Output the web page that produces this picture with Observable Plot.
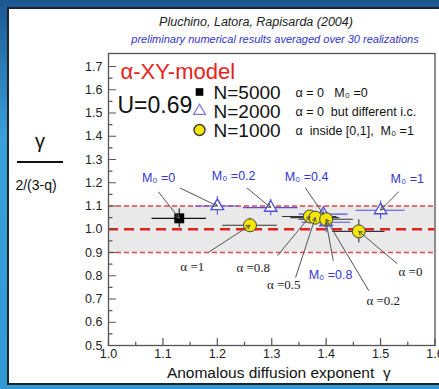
<!DOCTYPE html>
<html>
<head>
<meta charset="utf-8">
<script src="https://cdn.jsdelivr.net/npm/d3@7"></script>
<script src="https://cdn.jsdelivr.net/npm/@observablehq/plot@0.6"></script>
<style>
  body { margin: 0; }
  #wrap { position: relative; width: 439px; height: 389px; overflow: hidden;
    background: linear-gradient(to bottom, #1c5790 0%, #3aa0da 35%, #3399d4 100%); font-family: "Liberation Sans", Arial, sans-serif; }
  #panel { position: absolute; left: 7px; top: 7px; width: 440px; height: 374px; background: #fff; border: 2px solid #1b2530; }
  .lbl { position: absolute; white-space: nowrap; text-align: center; }
  #chart { position: absolute; left: 0; top: 0; }
</style>
</head>
<body>
<div id="wrap">
  <div id="panel"></div>
  <div class="lbl" style="left:106px; width:300px; top:15px; font-size:12.5px; line-height:14px; font-style:italic; color:#222;">Pluchino, Latora, Rapisarda (2004)</div>
  <div class="lbl" style="left:125px; width:300px; top:33px; font-size:11px; line-height:13px; font-style:italic; color:#3434c8;">preliminary numerical results averaged over 30 realizations</div>
  <div class="lbl" style="left:10px; width:60px; top:131px; font-size:20px; line-height:20px; color:#111;">γ</div>
  <div style="position:absolute; left:17px; width:46px; top:161px; height:1.5px; background:#111;"></div>
  <div class="lbl" style="left:6px; width:60px; top:177px; font-size:14px; line-height:16px; color:#111;">2/(3-q)</div>
  <div id="chart"></div>
</div>
<script>
// Axis ticks
const xTicks = [1.0, 1.1, 1.2, 1.3, 1.4, 1.5, 1.6];
const xMinorTicks = [1.05, 1.15, 1.25, 1.35, 1.45, 1.55];
const yTicks = [0.5, 0.6, 0.7, 0.8, 0.9, 1.0, 1.1, 1.2, 1.3, 1.4, 1.5, 1.6, 1.7];
const yMinorTicks = [0.55, 0.65, 0.75, 0.85, 0.95, 1.05, 1.15, 1.25, 1.35, 1.45, 1.55, 1.65];

// Reference levels: exact value 1 and the ±10% band
const refLine = [1.0];
const refBand = [0.9, 1.1];

// N=5000, alpha = 0, M0 = 0
const n5000Gamma = [1.13];
const n5000Ratio = [1.047];
const n5000GammaErr = [0.05];
const n5000RatioErr = [0.04];

// N=2000, alpha = 0, different initial magnetization M0
const n2000M0 = ["0", "0.2", "0.4", "0.8", "1"];
const n2000Gamma = [1.20, 1.298, 1.395, 1.40, 1.50];
const n2000Ratio = [1.10, 1.093, 1.065, 1.03, 1.082];
const n2000GammaErr = [0.04, 0.05, 0.045, 0.045, 0.045];
const n2000RatioErr = [0.04, 0.035, 0.03, 0.045, 0.04];

// N=1000, alpha inside [0,1], M0 = 1
const n1000Alpha = ["1", "0.8", "0.5", "0.2", "0"];
const n1000Gamma = [1.26, 1.37, 1.38, 1.40, 1.46];
const n1000Ratio = [1.017, 1.055, 1.05, 1.043, 0.991];
const n1000GammaErr = [0.05, 0.05, 0.045, 0.05, 0.048];
const n1000RatioErr = [0.03, 0.025, 0.025, 0.03, 0.05];

// Legend
const legendNames = ["N=5000", "N=2000", "N=1000"];
const legendNotes = ["α = 0\u00a0\u00a0 M₀ =0", "α = 0\u00a0 but different i.c.", "α\u00a0 inside [0,1],\u00a0 M₀ =1"];

const rows = (gamma, ratio, gErr, rErr, tag) =>
  gamma.map((g, i) => ({gamma: g, ratio: ratio[i], gErr: gErr[i], rErr: rErr[i], tag: tag ? tag[i] : null}));
const big = rows(n5000Gamma, n5000Ratio, n5000GammaErr, n5000RatioErr);
const mid = rows(n2000Gamma, n2000Ratio, n2000GammaErr, n2000RatioErr, n2000M0);
const small = rows(n1000Gamma, n1000Ratio, n1000GammaErr, n1000RatioErr, n1000Alpha);

// Callout labels (text anchor in data units) and the point each arrow points at
const m0Labels = [
  {text: "M₀ =0", x: 1.092, y: 1.22},
  {text: "M₀ =0.2", x: 1.23, y: 1.228},
  {text: "M₀ =0.4", x: 1.364, y: 1.224},
  {text: "M₀ =1", x: 1.549, y: 1.216},
  {text: "M₀ =0.8", x: 1.408, y: 0.802}
];
const alphaLabels = [
  {text: "α =1", x: 1.154, y: 0.837},
  {text: "α =0.8", x: 1.266, y: 0.836},
  {text: "α =0.5", x: 1.322, y: 0.759},
  {text: "α =0.2", x: 1.505, y: 0.694},
  {text: "α =0", x: 1.555, y: 0.816}
];
const callouts = [
  {x: 1.092, y: 1.16, to: big[0], inset: 10},
  {x: 1.132, y: 1.177, to: mid[0], inset: 10},
  {x: 1.255, y: 1.177, to: mid[1], inset: 7},
  {x: 1.362, y: 1.177, to: mid[2], inset: 9},
  {x: 1.533, y: 1.161, to: mid[4], inset: 8},
  {x: 1.413, y: 0.866, to: mid[3], inset: 8},
  {x: 1.184, y: 0.901, to: small[0], inset: 8},
  {x: 1.311, y: 0.888, to: small[1], inset: 10},
  {x: 1.344, y: 0.794, to: small[2], inset: 10},
  {x: 1.478, y: 0.737, to: small[3], inset: 12},
  {x: 1.530, y: 0.853, to: small[4], inset: 10}
];

const tickShape = {draw(context, l) { context.moveTo(0, 0); context.lineTo(0, -l); }};
const blue = "#5050dc";
const yellow = "#f4e600";
const sans = "Liberation Sans, Arial, sans-serif";
const serif = "Liberation Serif, Times New Roman, serif";

const errMarks = (data, stroke) => [
  Plot.ruleY(data, {y: "ratio", x1: d => d.gamma - d.gErr, x2: d => d.gamma + d.gErr, stroke, strokeWidth: 1.1}),
  Plot.ruleX(data, {x: "gamma", y1: d => d.ratio - d.rErr, y2: d => d.ratio + d.rErr, stroke, strokeWidth: 1.1})
];

// one legend row: marker, series name and a note, stacked 19px apart
const legendRow = (i, marker) => [
  Plot.dot([i], {frameAnchor: "top-left", dx: 91, dy: 38.5 + 19 * i, ...marker}),
  Plot.text([legendNames[i]], {frameAnchor: "top-left", lineAnchor: "middle", dx: 105, dy: 39 + 19 * i, textAnchor: "start", fontSize: 19, fill: "#111"}),
  Plot.text([legendNotes[i]], {frameAnchor: "top-left", lineAnchor: "middle", dx: 187, dy: 39.5 + 19 * i, textAnchor: "start", fontSize: 12.5, fill: "#111"})
];

const chart = Plot.plot({
  width: 439,
  height: 389,
  marginLeft: 108,
  marginRight: 4.5,
  marginTop: 53,
  marginBottom: 44,
  style: {background: "transparent", fontFamily: sans, color: "#222", overflow: "visible"},
  x: {domain: [1.0, 1.6]},
  y: {domain: [0.5, 1.756]},
  marks: [
    Plot.rect([refBand], {x1: 1.0, x2: 1.6, y1: d => d[0], y2: d => d[1], fill: "#e9e9e9"}),
    Plot.ruleY(refBand, {stroke: "#e8474a", strokeWidth: 1.3, strokeDasharray: "5,3"}),
    Plot.ruleY(refLine, {stroke: "#e3211c", strokeWidth: 2.6, strokeDasharray: "10,6"}),
    Plot.frame({stroke: "#555", strokeWidth: 1.3}),

    // inward ticks
    Plot.vector(xTicks, {x: d => d, y: 0.5, length: 7, anchor: "start", shape: tickShape, stroke: "#555", strokeWidth: 1.2}),
    Plot.vector(xMinorTicks, {x: d => d, y: 0.5, length: 3.5, anchor: "start", shape: tickShape, stroke: "#555", strokeWidth: 1.2}),
    Plot.vector(yTicks, {x: 1.0, y: d => d, length: 7, rotate: 90, anchor: "start", shape: tickShape, stroke: "#555", strokeWidth: 1.2}),
    Plot.vector(yMinorTicks, {x: 1.0, y: d => d, length: 3.5, rotate: 90, anchor: "start", shape: tickShape, stroke: "#555", strokeWidth: 1.2}),
    Plot.axisX({ticks: xTicks, tickSize: 0, tickPadding: 4, tickFormat: d3.format(".1f"), fontSize: 12.5, label: null}),
    Plot.axisY({ticks: yTicks, tickSize: 0, tickPadding: 6, tickFormat: d3.format(".1f"), fontSize: 12.5, label: null}),
    Plot.text(["Anomalous diffusion exponent  γ"], {frameAnchor: "bottom", lineAnchor: "middle", dx: 7, dy: 28, fontSize: 15.5, fill: "#111"}),

    // error bars
    ...errMarks(big, "#111"),
    ...errMarks(mid, blue),
    ...errMarks(small, "#333"),

    // points
    Plot.dot(big, {x: "gamma", y: "ratio", symbol: "square", r: 5.6, fill: "#000"}),
    Plot.dot(mid, {x: "gamma", y: "ratio", symbol: "triangle", r: 4.6, fill: "#fff", stroke: blue, strokeWidth: 1.4}),
    Plot.dot(small, {x: "gamma", y: "ratio", symbol: "circle", r: 6.5, fill: yellow, stroke: "#444", strokeWidth: 1}),

    // callouts
    Plot.arrow(callouts, {x1: "x", y1: "y", x2: d => d.to.gamma, y2: d => d.to.ratio, insetEnd: d => d.inset, stroke: "#555", strokeWidth: 1, headLength: 6}),
    Plot.text(m0Labels, {x: "x", y: "y", text: "text", fill: "#3535d0", fontSize: 12.5, fontFamily: sans}),
    Plot.text(alphaLabels, {x: "x", y: "y", text: "text", fill: "#222", fontSize: 13, fontFamily: serif}),

    // in-frame titles and legend
    Plot.text(["α-XY-model"], {frameAnchor: "top-left", lineAnchor: "middle", dx: 12, dy: 18, textAnchor: "start", fontSize: 22, fill: "#e8231c"}),
    Plot.text(["U=0.69"], {frameAnchor: "top-left", lineAnchor: "middle", dx: 9, dy: 52, textAnchor: "start", fontSize: 23, fill: "#111"}),
    ...legendRow(0, {symbol: "square", r: 4.3, fill: "#000"}),
    ...legendRow(1, {symbol: "triangle", r: 4.4, fill: "#fff", stroke: "#7a7ae0", strokeWidth: 1.2}),
    ...legendRow(2, {symbol: "circle", r: 5.5, fill: yellow, stroke: "#444"})
  ]
});
document.getElementById("chart").appendChild(chart);
</script>
</body>
</html>
